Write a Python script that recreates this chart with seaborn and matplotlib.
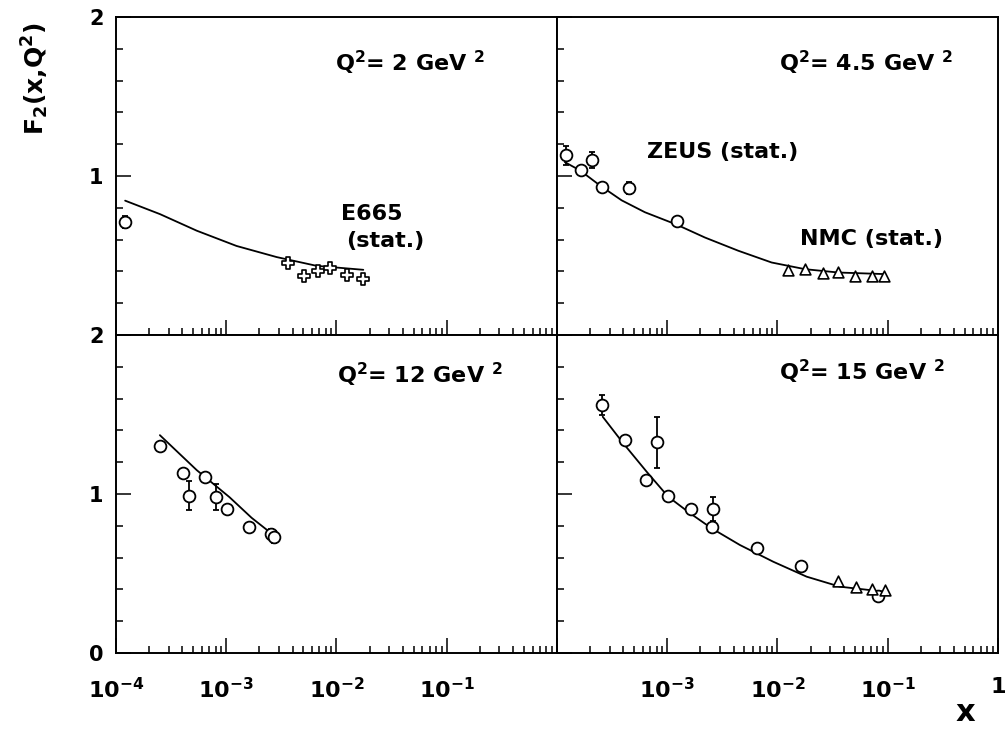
import numpy as np
import matplotlib
matplotlib.use("Agg")
import matplotlib.pyplot as plt
import matplotlib.ticker as mticker
import seaborn as sns

# Q^2 = 2 GeV^2
q2a_curve_x = [1.21e-4, 2.51e-4, 5.4e-4, 1.24e-3, 2.87e-3, 6.6e-3, 1.75e-2]
q2a_curve_y = [0.845, 0.76, 0.656, 0.56, 0.49, 0.435, 0.41]
q2a_circ_x = [1.2e-4]
q2a_circ_y = [0.71]
q2a_circ_err = [0.04]
e665_x = [3.6e-3, 5.1e-3, 6.8e-3, 8.7e-3, 1.24e-2, 1.74e-2]
e665_y = [0.45, 0.37, 0.40, 0.42, 0.38, 0.35]

# Q^2 = 4.5 GeV^2
q2b_curve_x = [1.18e-4, 1.62e-4, 2.46e-4, 3.86e-4, 6.28e-4, 1.22e-3, 2.2e-3, 4.41e-3,
               8.85e-3, 1.78e-2, 3.56e-2, 9.44e-2]
q2b_curve_y = [1.087, 1.035, 0.94, 0.847, 0.772, 0.694, 0.613, 0.530,
               0.456, 0.414, 0.393, 0.383]
zeus_b_x = [1.21e-4, 1.64e-4, 2.07e-4, 2.54e-4, 4.53e-4, 1.22e-3]
zeus_b_y = [1.13, 1.04, 1.10, 0.93, 0.925, 0.72]
zeus_b_err = [0.06, 0.02, 0.05, 0.02, 0.04, 0.02]
nmc_b_x = [0.0125, 0.0177, 0.026, 0.0356, 0.0504, 0.0715, 0.093]
nmc_b_y = [0.41, 0.415, 0.39, 0.395, 0.37, 0.37, 0.37]

# Q^2 = 12 GeV^2
q2c_curve_x = [2.5e-4, 5.4e-4, 1.07e-3, 1.7e-3, 2.7e-3]
q2c_curve_y = [1.37, 1.15, 0.98, 0.85, 0.74]
zeus_c_x = [2.5e-4, 4.03e-4, 4.58e-4, 6.4e-4, 8.1e-4, 1.01e-3, 1.62e-3, 2.55e-3, 2.7e-3]
zeus_c_y = [1.30, 1.13, 0.99, 1.105, 0.98, 0.906, 0.79, 0.75, 0.73]
zeus_c_err = [0.03, 0.02, 0.09, 0.02, 0.08, 0.02, 0.02, 0.03, 0.04]

# Q^2 = 15 GeV^2
q2d_curve_x = [2.6e-4, 3.99e-4, 6.51e-4, 1.02e-3, 1.61e-3, 2.53e-3, 4.57e-3, 9.16e-3,
               1.84e-2, 3.69e-2, 9.12e-2]
q2d_curve_y = [1.486, 1.319, 1.14, 0.983, 0.879, 0.784, 0.679, 0.574,
               0.48, 0.417, 0.386]
zeus_d_x = [2.58e-4, 4.14e-4, 6.41e-4, 8.12e-4, 1.02e-3, 1.63e-3, 2.62e-3, 2.57e-3, 6.47e-3, 1.62e-2, 8.2e-2]
zeus_d_y = [1.56, 1.34, 1.09, 1.325, 0.99, 0.906, 0.906, 0.79, 0.66, 0.55, 0.36]
zeus_d_err = [0.065, 0.02, 0.02, 0.16, 0.02, 0.02, 0.075, 0.02, 0.02, 0.02, 0.02]
nmc_d_x = [0.0356, 0.0515, 0.0714, 0.0944]
nmc_d_y = [0.455, 0.417, 0.405, 0.396]

panel_titles = ["Q$^2$= 2 GeV $^2$", "Q$^2$= 4.5 GeV $^2$", "Q$^2$= 12 GeV $^2$", "Q$^2$= 15 GeV $^2$"]

sns.set_style("ticks")
plt.rcParams["font.family"] = ["DejaVu Sans"]
plt.rcParams["font.weight"] = "bold"
plt.rcParams["mathtext.fontset"] = "dejavusans"
plt.rcParams["mathtext.default"] = "bf"
plt.rcParams["text.color"] = "black"
plt.rcParams["axes.labelcolor"] = "black"
plt.rcParams["xtick.color"] = "black"
plt.rcParams["ytick.color"] = "black"
plt.rcParams["axes.edgecolor"] = "black"

fig, axes = plt.subplots(2, 2, figsize=(10.07, 7.30), dpi=100)
fig.subplots_adjust(left=0.1152, right=0.991, top=0.9767, bottom=0.1055, wspace=0, hspace=0)

circ_kw = dict(marker="o", s=72, facecolor="white", edgecolor="black", linewidth=1.3, zorder=4, legend=False)
tri_kw = dict(marker="^", s=60, facecolor="white", edgecolor="black", linewidth=1.2, zorder=4, legend=False)
cross_kw = dict(marker="P", s=75, facecolor="white", edgecolor="black", linewidth=1.2, zorder=4, legend=False)
err_kw = dict(fmt="none", ecolor="black", elinewidth=1.3, capsize=2, capthick=1.3, zorder=3)
txt_kw = dict(fontsize=16, fontweight="bold", va="center", color="black")


def curve(ax, x, y):
    sns.lineplot(x=x, y=y, ax=ax, color="black", linewidth=1.3, sort=False, estimator=None, zorder=2)


def circles(ax, x, y, e):
    ax.errorbar(x, y, yerr=e, **err_kw)
    sns.scatterplot(x=x, y=y, ax=ax, **circ_kw)


# panel 1
ax = axes[0, 0]
curve(ax, q2a_curve_x, q2a_curve_y)
circles(ax, q2a_circ_x, q2a_circ_y, q2a_circ_err)
sns.scatterplot(x=e665_x, y=e665_y, ax=ax, **cross_kw)
ax.text(0.51, 0.382, "E665", transform=ax.transAxes, **txt_kw)
ax.text(0.522, 0.297, "(stat.)", transform=ax.transAxes, **txt_kw)

# panel 2
ax = axes[0, 1]
curve(ax, q2b_curve_x, q2b_curve_y)
circles(ax, zeus_b_x, zeus_b_y, zeus_b_err)
sns.scatterplot(x=nmc_b_x, y=nmc_b_y, ax=ax, **tri_kw)
ax.text(0.204, 0.577, "ZEUS (stat.)", transform=ax.transAxes, **txt_kw)
ax.text(0.551, 0.303, "NMC (stat.)", transform=ax.transAxes, **txt_kw)

# panel 3
ax = axes[1, 0]
curve(ax, q2c_curve_x, q2c_curve_y)
circles(ax, zeus_c_x, zeus_c_y, zeus_c_err)

# panel 4
ax = axes[1, 1]
curve(ax, q2d_curve_x, q2d_curve_y)
circles(ax, zeus_d_x, zeus_d_y, zeus_d_err)
sns.scatterplot(x=nmc_d_x, y=nmc_d_y, ax=ax, **tri_kw)

title_pos = [(0.497, 0.855), (0.503, 0.855), (0.501, 0.874), (0.503, 0.884)]


def xfmt_left(v, pos):
    if v >= 0.99:
        return ""
    return r"$10^{%d}$" % int(round(np.log10(v)))


def xfmt_right(v, pos):
    if v < 2e-4:
        return ""
    if v >= 0.99:
        return "1"
    return r"$10^{%d}$" % int(round(np.log10(v)))


for i, ax in enumerate(axes.flat):
    r, c = divmod(i, 2)
    ax.set_xscale("log")
    ax.set_xlim(1e-4, 1)
    ax.set_ylim(0, 2)
    ax.set_xlabel("")
    ax.set_ylabel("")
    ax.xaxis.set_major_locator(mticker.LogLocator(base=10, numticks=10))
    ax.xaxis.set_minor_locator(mticker.LogLocator(base=10, subs=np.arange(2, 10), numticks=10))
    ax.yaxis.set_major_locator(mticker.MultipleLocator(1))
    ax.yaxis.set_minor_locator(mticker.MultipleLocator(0.2))
    ax.tick_params(which="both", direction="in", top=False, right=False, width=1.1,
                   colors="black", labelcolor="black")
    ax.tick_params(which="major", length=11)
    ax.tick_params(which="minor", length=5)
    ax.tick_params(axis="x", pad=17, labelsize=16)
    ax.tick_params(axis="y", pad=9, labelsize=15)
    for sp in ax.spines.values():
        sp.set_linewidth(1.4)
        sp.set_color("black")
    if c == 0:
        ax.xaxis.set_major_formatter(mticker.FuncFormatter(xfmt_left))
        if r == 0:
            ax.yaxis.set_major_formatter(mticker.FuncFormatter(lambda v, p: "" if v < 0.5 else "%d" % v))
        else:
            ax.yaxis.set_major_formatter(mticker.FuncFormatter(lambda v, p: "%d" % v))
    else:
        ax.xaxis.set_major_formatter(mticker.FuncFormatter(xfmt_right))
        ax.set_yticklabels([])
    if r == 0:
        ax.set_xticklabels([])
    ax.xaxis.set_minor_formatter(mticker.NullFormatter())
    for lab in ax.get_xticklabels() + ax.get_yticklabels():
        lab.set_fontweight("bold")
        lab.set_color("black")
    tx, ty = title_pos[i]
    ax.text(tx, ty, panel_titles[i], transform=ax.transAxes, **txt_kw)

fig.text(0.035, 0.893, r"F$_2$(x,Q$^2$)", rotation=90, fontsize=18, fontweight="bold",
         ha="center", va="center", color="black")
fig.text(0.959, 0.024, "x", fontsize=22, fontweight="bold", ha="center", va="center", color="black")

fig.savefig("out.png", dpi=100)
